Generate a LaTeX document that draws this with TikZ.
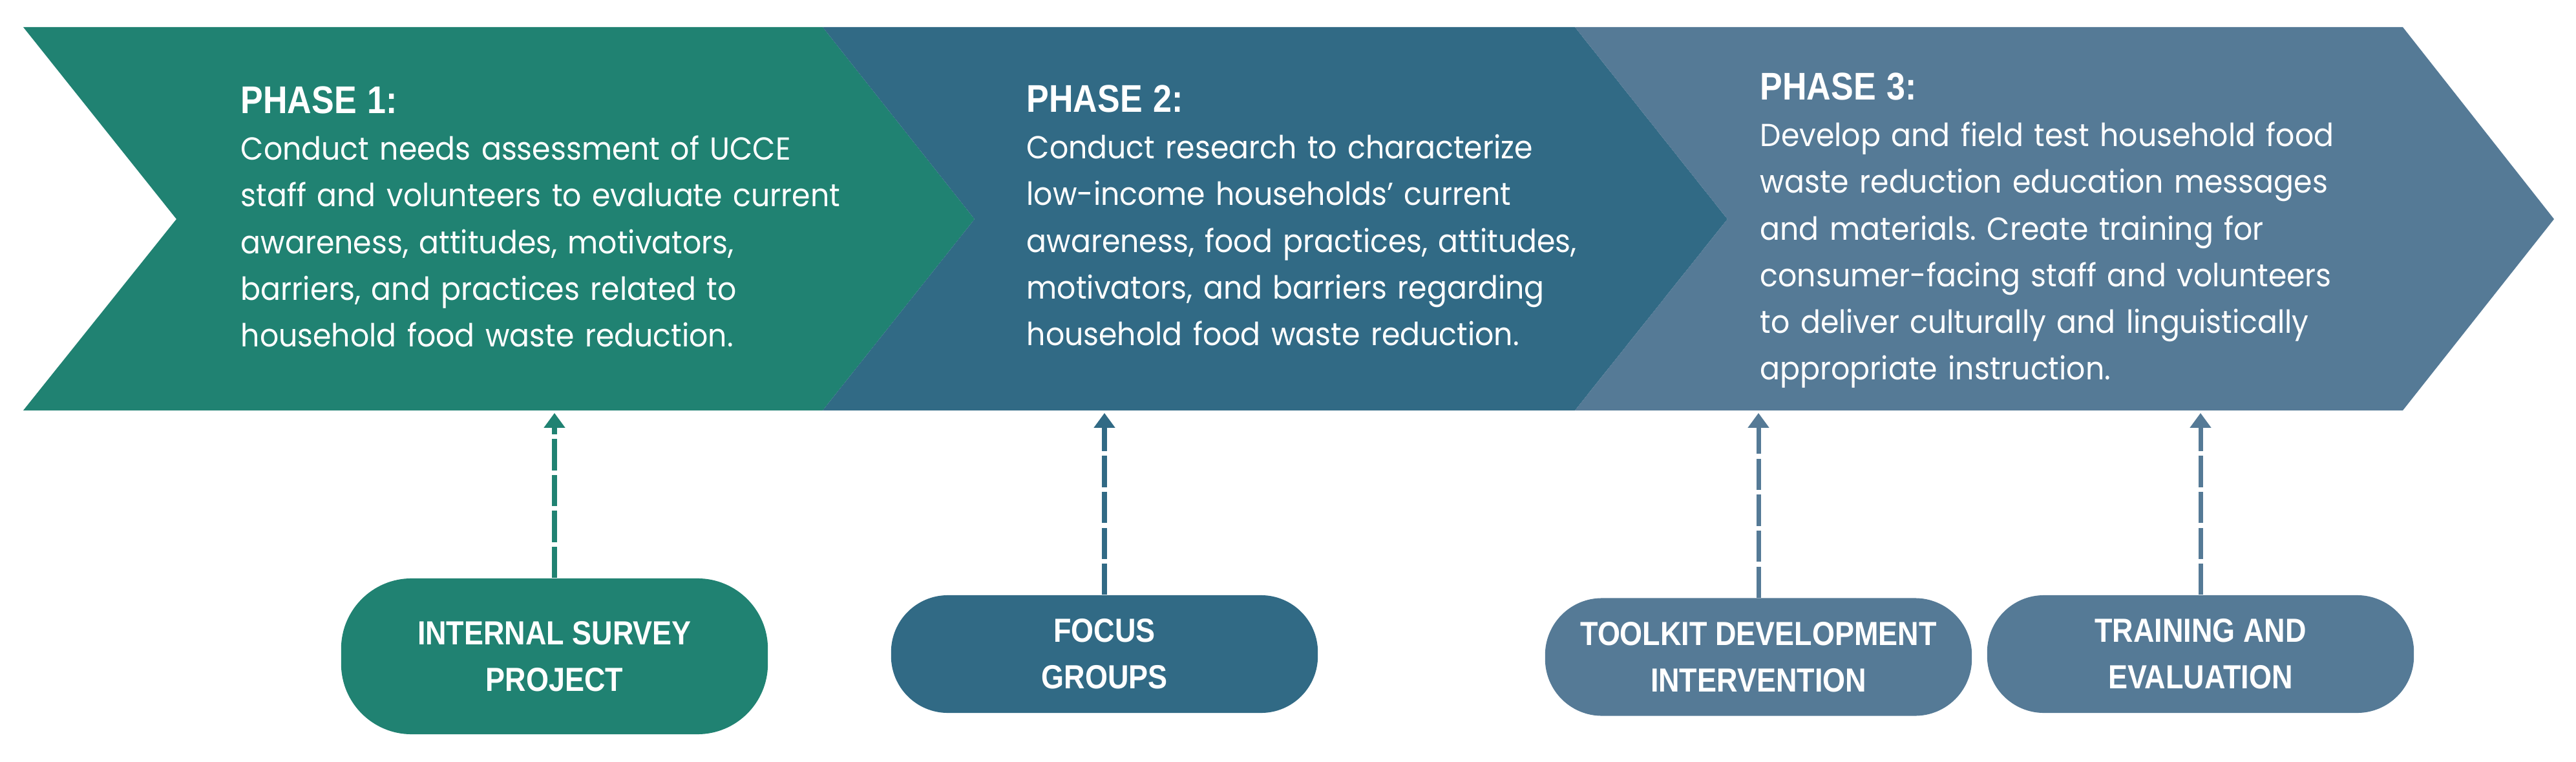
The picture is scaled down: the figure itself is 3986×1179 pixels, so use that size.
\documentclass[tikz,border=0pt]{standalone}
\usepackage{fontspec}
\setmainfont{Poppins}[FakeStretch=0.93]
\newfontfamily\cabecera{Liberation Sans}[FakeStretch=0.87]
\usetikzlibrary{arrows.meta,positioning}
\definecolor{fase1}{RGB}{32,130,114}
\definecolor{fase2}{RGB}{49,106,133}
\definecolor{fase3}{RGB}{85,122,150}
\frenchspacing

\begin{document}
\begin{tikzpicture}[x=0.01cm,y=-0.01cm,
    texto/.style={anchor=north west,inner sep=0,text=white,align=left,
      text width=13cm,font=\fontsize{14}{20.5}\selectfont},
    caja/.style={rectangle,rounded corners=25pt,inner sep=0,minimum width=6.6cm,
      minimum height=1.82cm,text=white,align=center,
      font=\cabecera\bfseries\fontsize{14.7}{20.5}\selectfont},
    flecha/.style={-{Triangle[width=9pt,length=6.5pt]},line width=2pt,
      dash pattern=on 13.7pt off 2.1pt}]

  % Marco de la figura
  \useasboundingbox (0,0) rectangle (3986,1179);

  % Dibujar las flechas de las fases
  \fill[fase1] (36,42) -- (1273,42) -- (1508,339) -- (1273,635) -- (36,635) -- (273,339) -- cycle;
  \fill[fase2] (1273,42) -- (2437,42) -- (2673,339) -- (2437,635) -- (1273,635) -- (1508,339) -- cycle;
  \fill[fase3] (2437,42) -- (3718,42) -- (3952,339) -- (3718,635) -- (2437,635) -- (2673,339) -- cycle;

  % Textos de las fases
  \node[texto] (t1) at (372,124.6) {{\cabecera\bfseries\fontsize{17}{20.5}\selectfont PHASE 1:\strut}\\
    Conduct needs assessment of UCCE\\
    staff and volunteers to evaluate current\\
    awareness, attitudes, motivators,\\
    barriers, and practices related to\\
    household food waste reduction.};
  \node[texto] (t2) at (1588,122.6) {{\cabecera\bfseries\fontsize{17}{20.5}\selectfont PHASE 2:\strut}\\
    Conduct research to characterize\\
    low-income households\char"27{} current\\
    awareness, food practices, attitudes,\\
    motivators, and barriers regarding\\
    household food waste reduction.};
  \node[texto] (t3) at (2723,103.6) {{\cabecera\bfseries\fontsize{17}{20.5}\selectfont PHASE 3:\strut}\\
    Develop and field test household food\\
    waste reduction education messages\\
    and materials. Create training for\\
    consumer-facing staff and volunteers\\
    to deliver culturally and linguistically\\
    appropriate instruction.};

  % Cajas de las actividades
  \node[caja,fill=fase1,minimum height=2.41cm,rounded corners=31pt] (c1) at (858,1015.5) {INTERNAL SURVEY\\PROJECT};
  \node[caja,fill=fase2] (c2) at (1709,1012) {FOCUS\\GROUPS};
  \node[caja,fill=fase3] (c3) at (2721,1016.5) {TOOLKIT DEVELOPMENT\\INTERVENTION};
  \node[caja,fill=fase3] (c4) at (3405,1012) {TRAINING AND\\EVALUATION};

  % Flechas punteadas hacia las fases
  \coordinate (base) at (0,639);
  \foreach \c/\col in {1/fase1,2/fase2,3/fase3,4/fase3} {
    \draw[flecha,\col] (c\c.north) -- (c\c.north |- base);
  }

\end{tikzpicture}
\end{document}
